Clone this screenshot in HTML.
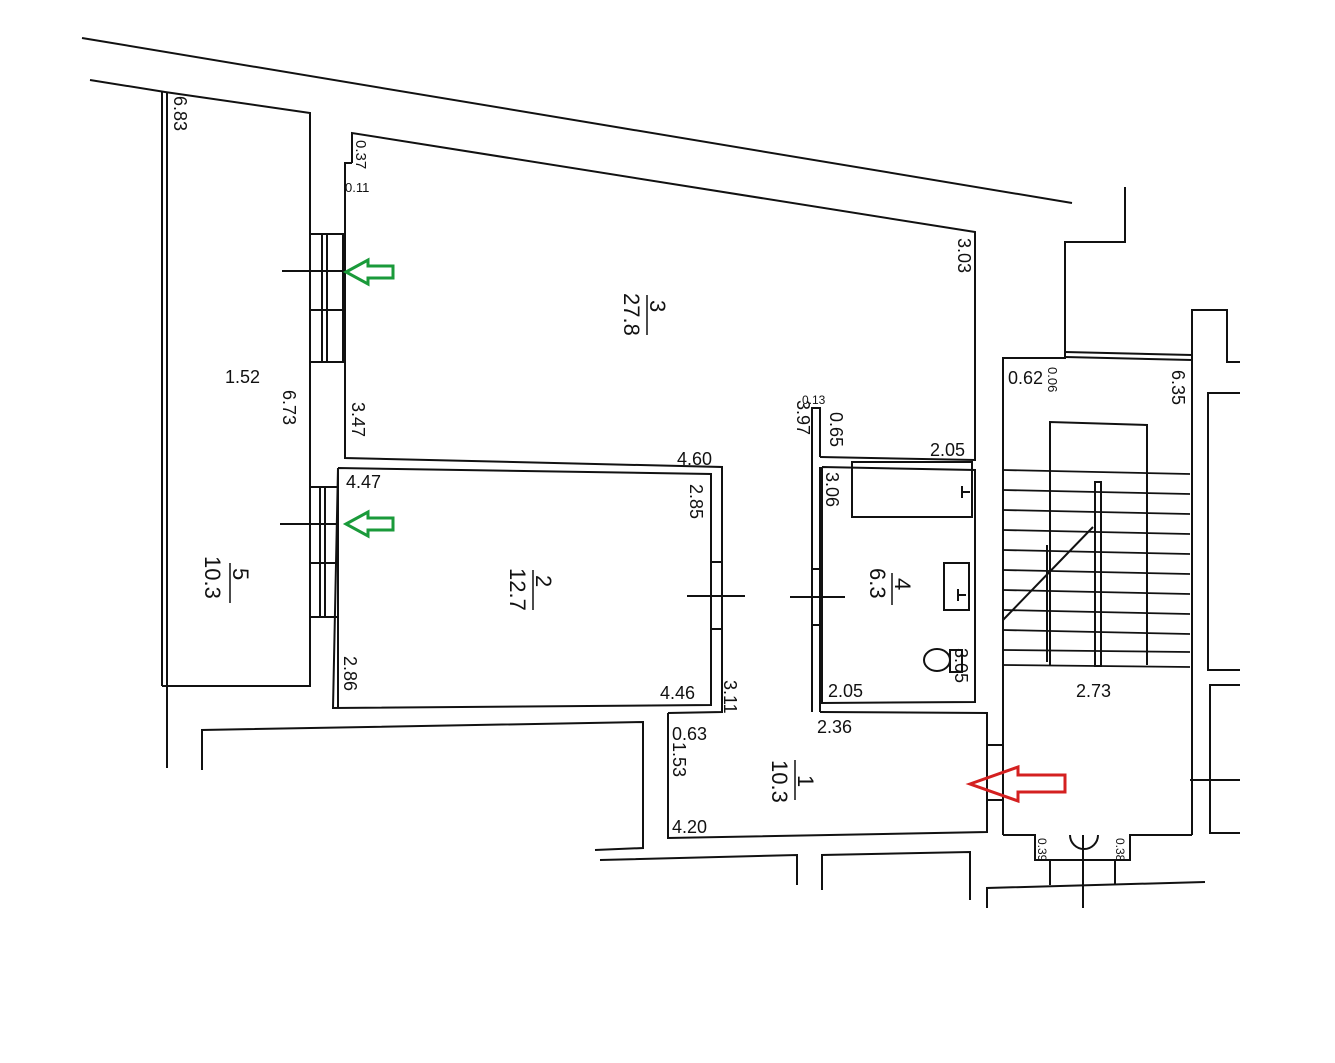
<!DOCTYPE html>
<html><head><meta charset="utf-8"><style>
html,body{margin:0;padding:0;background:#fff;}
svg{display:block;}
text{font-family:"Liberation Sans",sans-serif;fill:#111;}
</style></head><body>
<svg width="1335" height="1063" viewBox="0 0 1335 1063" xmlns="http://www.w3.org/2000/svg">
<g fill="none" stroke="#111" stroke-width="2">
<!-- outer top lines -->
<line x1="82" y1="38" x2="1072" y2="203"/>
<polyline points="90,80 165,92 310,113 310,686 162,686"/>
<line x1="162" y1="91" x2="162" y2="686"/>
<line x1="167" y1="92" x2="167" y2="768"/>
<!-- windows room 5 -> 3 -->
<rect x="310" y="234" width="33" height="128"/>
<line x1="322" y1="234" x2="322" y2="362"/><line x1="327" y1="234" x2="327" y2="362"/>
<line x1="310" y1="310" x2="343" y2="310"/>
<line x1="282" y1="271" x2="343" y2="271"/>
<rect x="310" y="487" width="28" height="130"/>
<line x1="320" y1="487" x2="320" y2="617"/><line x1="325" y1="487" x2="325" y2="617"/>
<line x1="310" y1="563" x2="338" y2="563"/>
<line x1="280" y1="524" x2="338" y2="524"/>
<!-- room 3 -->
<polyline points="352,163 352,133 975,232 975,460 820,457"/>
<polyline points="352,163 345,163 345,458 722,467 722,712 668,713"/>
<!-- room 2 -->
<polyline points="338,468 711,474 711,705 333,708 338,468"/>
<line x1="338" y1="470" x2="338" y2="708"/>
<rect x="711" y="562" width="11" height="67"/>
<line x1="687" y1="596" x2="745" y2="596"/>
<!-- room 4 wall -->
<polyline points="812,712 812,408 820,408 820,457"/>
<polyline points="822,467 975,470 975,702 822,703 822,467"/>
<line x1="820" y1="467" x2="820" y2="712"/>
<rect x="812" y="569" width="10" height="56"/>
<line x1="790" y1="597" x2="845" y2="597"/>
<rect x="852" y="462" width="120" height="55"/>
<line x1="962" y1="492" x2="970" y2="492"/><line x1="962" y1="486" x2="962" y2="498"/>
<rect x="944" y="563" width="25" height="47"/>
<line x1="958" y1="595" x2="966" y2="595"/><line x1="958" y1="589" x2="958" y2="601"/>
<ellipse cx="937" cy="660" rx="13" ry="11"/>
<rect x="950" y="650" width="12" height="22"/>
<!-- room 1 -->
<polyline points="668,713 668,838 987,832 987,713 820,712"/>
<rect x="987" y="745" width="16" height="55"/>
<!-- lower left -->
<polyline points="202,770 202,730 643,722 643,848 595,850"/>
<polyline points="600,860 797,855 797,885"/>
<polyline points="822,890 822,855 970,852 970,900"/>
<!-- stair area -->
<polyline points="1003,835 1003,358 1065,358 1065,242 1125,242 1125,187"/>
<line x1="1065" y1="352" x2="1192" y2="355"/>
<line x1="1065" y1="357" x2="1192" y2="360"/>
<polyline points="1192,835 1192,362 1192,310 1227,310 1227,362 1240,362"/>
<polyline points="1240,393 1208,393 1208,670 1240,670"/>
<polyline points="1240,685 1210,685 1210,833 1240,833"/>
<polyline points="1050,665 1050,422 1147,425 1147,665"/>
<g stroke-width="1.8">
<line x1="1003" y1="470" x2="1190" y2="474"/>
<line x1="1003" y1="490" x2="1190" y2="494"/>
<line x1="1003" y1="510" x2="1190" y2="514"/>
<line x1="1003" y1="530" x2="1190" y2="534"/>
<line x1="1003" y1="550" x2="1190" y2="554"/>
<line x1="1003" y1="570" x2="1190" y2="574"/>
<line x1="1003" y1="590" x2="1190" y2="594"/>
<line x1="1003" y1="610" x2="1190" y2="614"/>
<line x1="1003" y1="630" x2="1190" y2="634"/>
<line x1="1003" y1="650" x2="1190" y2="652"/>
<line x1="1003" y1="665" x2="1190" y2="667"/>
</g>
<rect x="1095" y="482" width="6" height="184"/>
<line x1="1003" y1="620" x2="1093" y2="527"/>
<line x1="1047" y1="545" x2="1047" y2="662"/>
<line x1="1190" y1="780" x2="1240" y2="780"/>
<polyline points="1003,835 1035,835 1035,860 1130,860 1130,835 1192,835"/>
<path d="M1070,835 A14,14 0 0 0 1098,835"/>
<line x1="1083" y1="835" x2="1083" y2="908"/>
<line x1="1050" y1="860" x2="1050" y2="885"/><line x1="1115" y1="860" x2="1115" y2="885"/>
<polyline points="987,908 987,888 1205,882"/>
</g>
<!-- arrows -->
<polygon points="346,272 368,260 368,266 393,266 393,278 368,278 368,284" fill="none" stroke="#1a9a3a" stroke-width="3"/>
<polygon points="346,524 368,512 368,518 393,518 393,530 368,530 368,536" fill="none" stroke="#1a9a3a" stroke-width="3"/>
<polygon points="970,784 1018,767 1018,775 1065,775 1065,792 1018,792 1018,801" fill="none" stroke="#d42020" stroke-width="3"/>
<!-- labels -->
<g font-size="18">
<text x="225" y="383">1.52</text>
<text x="677" y="465">4.60</text>
<text x="346" y="488">4.47</text>
<text x="660" y="699">4.46</text>
<text x="930" y="456">2.05</text>
<text x="828" y="697">2.05</text>
<text x="672" y="740">0.63</text>
<text x="817" y="733">2.36</text>
<text x="672" y="833">4.20</text>
<text x="1076" y="697">2.73</text>
<text x="1008" y="384">0.62</text>
<text x="802" y="404" font-size="12">0.13</text>
<text x="345" y="192" font-size="13">0.11</text>
</g>
<g font-size="18">
<text transform="translate(174,96) rotate(90)">6.83</text>
<text transform="translate(283,390) rotate(90)">6.73</text>
<text transform="translate(352,402) rotate(90)">3.47</text>
<text transform="translate(958,238) rotate(90)">3.03</text>
<text transform="translate(690,484) rotate(90)">2.85</text>
<text transform="translate(344,656) rotate(90)">2.86</text>
<text transform="translate(724,680) rotate(90)">3.11</text>
<text transform="translate(797,400) rotate(90)">3.97</text>
<text transform="translate(830,412) rotate(90)">0.65</text>
<text transform="translate(826,472) rotate(90)">3.06</text>
<text transform="translate(955,648) rotate(90)">3.05</text>
<text transform="translate(673,742) rotate(90)">1.53</text>
<text transform="translate(1172,370) rotate(90)">6.35</text>
<text transform="translate(356,140) rotate(90)" font-size="15">0.37</text>
<text transform="translate(1048,367) rotate(90)" font-size="13">0.06</text>
<text transform="translate(1038,838) rotate(90)" font-size="12">0.39</text>
<text transform="translate(1116,838) rotate(90)" font-size="12">0.38</text>
</g>
<!-- fractions -->
<g font-size="22">
<text transform="translate(650,300) rotate(90)">3</text>
<line x1="647" y1="295" x2="647" y2="335" stroke="#111" stroke-width="1.5"/>
<text transform="translate(624,293) rotate(90)">27.8</text>
<text transform="translate(536,575) rotate(90)">2</text>
<line x1="533" y1="570" x2="533" y2="610" stroke="#111" stroke-width="1.5"/>
<text transform="translate(510,568) rotate(90)">12.7</text>
<text transform="translate(895,578) rotate(90)">4</text>
<line x1="892" y1="573" x2="892" y2="605" stroke="#111" stroke-width="1.5"/>
<text transform="translate(870,568) rotate(90)">6.3</text>
<text transform="translate(233,568) rotate(90)">5</text>
<line x1="230" y1="563" x2="230" y2="603" stroke="#111" stroke-width="1.5"/>
<text transform="translate(205,556) rotate(90)">10.3</text>
<text transform="translate(798,775) rotate(90)">1</text>
<line x1="795" y1="760" x2="795" y2="800" stroke="#111" stroke-width="1.5"/>
<text transform="translate(772,760) rotate(90)">10.3</text>
</g>
</svg>
</body></html>
